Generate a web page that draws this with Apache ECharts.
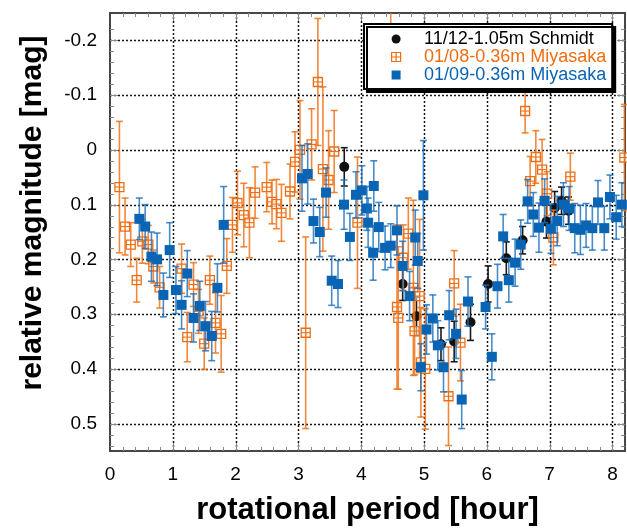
<!DOCTYPE html>
<html>
<head>
<meta charset="utf-8">
<script src="https://cdn.jsdelivr.net/npm/echarts@6/dist/echarts.min.js"></script>
<style>html,body{margin:0;padding:0;background:#fff;}#c{width:627px;height:531px;}</style>
</head>
<body>
<div id="c"></div>
<script>
// ---- data: [rotational period (hour), relative magnitude (mag), error (mag)] ----
const schmidtName = '11/12-1.05m Schmidt';
const schmidtData = [
  [3.73,0.031,0.035],[4.66,0.245,0.030],[4.88,0.304,0.035],[5.27,0.355,0.030],
  [5.48,0.350,0.037],[5.74,0.315,0.033],[6.02,0.245,0.033],[6.31,0.198,0.030],
  [6.57,0.165,0.025],[6.95,0.131,0.030],[7.08,0.106,0.030],[7.19,0.093,0.025],
  [7.30,0.111,0.025]
];
const miya08Name = '01/08-0.36m Miyasaka';
const miya08Data = [
  [0.15,0.068,0.120],[0.24,0.140,0.052],[0.33,0.173,0.040],[0.425,0.238,0.040],
  [0.515,0.167,0.040],[0.61,0.173,0.035],[0.69,0.213,0.030],[0.79,0.251,0.038],
  [1.14,0.217,0.045],[1.23,0.342,0.045],[1.33,0.246,0.040],[1.41,0.295,0.040],
  [1.50,0.354,0.047],[1.59,0.238,0.044],[1.68,0.316,0.055],[1.77,0.336,0.070],
  [1.86,0.212,0.050],[1.95,0.137,0.050],[2.03,0.097,0.058],[2.13,0.119,0.058],
  [2.22,0.133,0.064],[2.31,0.078,0.047],[2.495,0.068,0.045],[2.58,0.095,0.040],
  [2.65,0.099,0.045],[2.73,0.115,0.052],[2.866,0.076,0.050],[2.946,0.022,0.055],
  [3.025,0.000,0.090],[3.116,0.334,0.175],[3.21,-0.010,0.065],[3.31,-0.124,0.116],
  [3.39,0.035,0.150],[3.48,0.055,0.090],[3.57,0.003,0.075],[3.94,0.133,0.120],
  [4.47,-0.210,0.100],[4.57,0.287,0.150],[4.59,0.307,0.130],[4.67,0.197,0.060],
  [4.75,0.153,0.065],[4.83,0.252,0.160],[4.85,0.331,0.080],[4.93,0.267,0.140],
  [4.95,0.388,0.100],[5.02,0.400,0.110],[5.39,0.450,0.090],[5.48,0.244,0.060],
  [5.58,0.352,0.070],[6.61,-0.071,0.040],[6.69,0.057,0.045],[6.78,0.013,0.048],
  [6.88,0.036,0.055],[6.96,0.080,0.040],[7.06,0.160,0.050],[7.33,0.049,0.043],
  [8.19,0.014,0.097]
];
const miya09Name = '01/09-0.36m Miyasaka';
const miya09Data = [
  [0.467,0.126,0.038],[0.56,0.140,0.040],[0.66,0.195,0.045],[0.75,0.200,0.048],
  [0.85,0.265,0.040],[0.95,0.183,0.050],[1.05,0.256,0.043],[1.14,0.283,0.044],
  [1.23,0.226,0.042],[1.33,0.307,0.044],[1.43,0.285,0.045],[1.52,0.322,0.045],
  [1.62,0.340,0.045],[1.71,0.252,0.044],[1.81,0.137,0.070],[3.057,0.052,0.060],
  [3.148,0.044,0.055],[3.24,0.130,0.040],[3.34,0.150,0.045],[3.44,0.078,0.045],
  [3.53,0.239,0.045],[3.63,0.245,0.043],[3.726,0.100,0.045],[3.82,0.159,0.043],
  [3.917,0.082,0.042],[4.01,0.074,0.045],[4.09,0.107,0.040],[4.11,0.133,0.045],
  [4.19,0.188,0.050],[4.20,0.066,0.046],[4.28,0.141,0.045],[4.38,0.179,0.040],
  [4.47,0.175,0.040],[4.57,0.147,0.045],[4.66,0.212,0.045],[4.77,0.267,0.045],
  [4.86,0.160,0.050],[4.90,0.203,0.050],[4.95,0.397,0.043],[4.99,0.083,0.100],
  [5.04,0.328,0.045],[5.14,0.308,0.043],[5.22,0.357,0.045],[5.31,0.397,0.045],
  [5.40,0.302,0.045],[5.51,0.336,0.045],[5.60,0.456,0.053],[5.70,0.277,0.045],
  [5.98,0.287,0.040],[6.08,0.378,0.042],[6.17,0.249,0.040],[6.26,0.158,0.040],
  [6.35,0.238,0.040],[6.45,0.206,0.043],[6.54,0.173,0.045],[6.65,0.094,0.040],
  [6.74,0.118,0.040],[6.83,0.142,0.045],[6.92,0.093,0.040],[7.02,0.144,0.045],
  [7.12,0.130,0.045],[7.22,0.100,0.040],[7.31,0.107,0.040],[7.40,0.143,0.045],
  [7.49,0.146,0.045],[7.58,0.138,0.040],[7.68,0.143,0.040],[7.77,0.096,0.040],
  [7.87,0.143,0.040],[7.96,0.086,0.040],[8.06,0.123,0.040],[8.15,0.100,0.040]
];
// ---- axes / ticks ----
const xTickLabels = [0,1,2,3,4,5,6,7,8];
const yTickLabels = [-0.2,-0.1,0,0.1,0.2,0.3,0.4,0.5];
const xRange = [0, 8.2];
const yRange = [-0.25, 0.55];
const xMinorStep = 0.2;
const yMinorStep = 0.02;
const xTitle = 'rotational period [hour]';
const yTitle = 'relative magnitude [mag]';

const FONT = 'Liberation Sans, Arial, Helvetica, sans-serif';
const C_BLACK = '#111111', C_ORANGE = '#EE6E14', C_BLUE = '#0A64B4';

const chart = echarts.init(document.getElementById('c'), null, {renderer: 'canvas'});

function renderFrame(params, api) {
  const cs = params.coordSys;
  const L = cs.x, R = cs.x + cs.width, T = cs.y, B = cs.y + cs.height;
  const ch = [];
  const gridStyle = {stroke: '#161616', lineWidth: 1.5, lineDash: [2, 2]};
  const tickStyle = {stroke: '#8a8a8a', lineWidth: 1};
  xTickLabels.forEach(v => {
    if (v <= xRange[0] || v >= xRange[1]) return;
    const px = Math.round(api.coord([v, 0])[0]) + 0.5;
    ch.push({type: 'line', shape: {x1: px, y1: T, x2: px, y2: B}, style: gridStyle});
  });
  yTickLabels.forEach(v => {
    const py = Math.round(api.coord([0, v])[1]) + 0.5;
    ch.push({type: 'line', shape: {x1: L, y1: py, x2: R, y2: py}, style: gridStyle});
  });
  const nx = Math.round((xRange[1] - xRange[0]) / xMinorStep);
  for (let i = 1; i < nx; i++) {
    const v = xRange[0] + i * xMinorStep;
    const major = Math.abs(v - Math.round(v)) < 1e-6;
    const len = major ? 8 : 4;
    const px = Math.round(api.coord([v, 0])[0]) + 0.5;
    ch.push({type: 'line', shape: {x1: px, y1: B, x2: px, y2: B - len}, style: tickStyle});
    ch.push({type: 'line', shape: {x1: px, y1: T, x2: px, y2: T + len}, style: tickStyle});
  }
  const ny = Math.round((yRange[1] - yRange[0]) / yMinorStep);
  for (let i = 1; i < ny; i++) {
    const v = yRange[0] + i * yMinorStep + 0.01;
    if (v >= yRange[1]) break;
    const major = Math.abs(v * 10 - Math.round(v * 10)) < 1e-6;
    const len = major ? 8 : 4;
    const py = Math.round(api.coord([0, v])[1]) + 0.5;
    ch.push({type: 'line', shape: {x1: L, y1: py, x2: L + len, y2: py}, style: tickStyle});
    ch.push({type: 'line', shape: {x1: R, y1: py, x2: R - len, y2: py}, style: tickStyle});
  }
  return {type: 'group', children: ch};
}

function makeErrRender(kind, barColor, markColor) {
  return function (params, api) {
    const cs = params.coordSys;
    const T = cs.y, B = cs.y + cs.height;
    const x = api.value(0), y = api.value(1), e = api.value(2);
    const p = api.coord([x, y]);
    let top = api.coord([x, y - e])[1];
    let bot = api.coord([x, y + e])[1];
    const ch = [];
    const bs = {stroke: barColor, lineWidth: 1.6};
    const capTop = top >= T, capBot = bot <= B;
    top = Math.max(top, T); bot = Math.min(bot, B);
    ch.push({type: 'line', shape: {x1: p[0], y1: top, x2: p[0], y2: bot}, style: bs});
    if (capTop) ch.push({type: 'line', shape: {x1: p[0] - 3.5, y1: top, x2: p[0] + 3.5, y2: top}, style: bs});
    if (capBot) ch.push({type: 'line', shape: {x1: p[0] - 3.5, y1: bot, x2: p[0] + 3.5, y2: bot}, style: bs});
    if (kind === 'circle') {
      ch.push({type: 'circle', shape: {cx: p[0], cy: p[1], r: 5}, style: {fill: markColor}});
    } else if (kind === 'square') {
      ch.push({type: 'rect', shape: {x: p[0] - 5, y: p[1] - 5, width: 10, height: 10}, style: {fill: markColor}});
    } else {
      const s = 4.5;
      ch.push({type: 'rect', shape: {x: p[0] - s, y: p[1] - s, width: 2 * s, height: 2 * s},
               style: {fill: 'rgba(255,255,255,0.55)', stroke: markColor, lineWidth: 1.3}});
      ch.push({type: 'line', shape: {x1: p[0] - s, y1: p[1], x2: p[0] + s, y2: p[1]}, style: {stroke: markColor, lineWidth: 1.1}});
      ch.push({type: 'line', shape: {x1: p[0], y1: p[1] - s, x2: p[0], y2: p[1] + s}, style: {stroke: markColor, lineWidth: 1.1}});
    }
    return {type: 'group', children: ch};
  };
}

const squarePath = 'path://M0,0L10,0L10,10L0,10Z';
const crossSquarePath = 'path://M0,0L10,0L10,10L0,10ZM5,0L5,10M0,5L10,5';

const option = {
  backgroundColor: '#ffffff',
  animation: false,
  textStyle: {fontFamily: FONT},
  grid: {left: 110, right: 2, top: 13, bottom: 76, show: true, borderColor: '#474747', borderWidth: 2, backgroundColor: 'transparent'},
  legend: {
    orient: 'vertical', left: 364, top: 24,
    padding: [6, 6, 5, 27], itemGap: 0, itemWidth: 46, itemHeight: 9,
    backgroundColor: '#ffffff', borderColor: '#000', borderWidth: 2, borderRadius: 0,
    shadowColor: '#000', shadowBlur: 0, shadowOffsetX: 3, shadowOffsetY: 3,
    selectedMode: false,
    textStyle: {fontSize: 18, fontFamily: FONT, lineHeight: 17.5},
    data: [
      {name: schmidtName, icon: 'circle', itemStyle: {color: C_BLACK, borderWidth: 0}, textStyle: {color: '#000'}},
      {name: miya08Name, icon: crossSquarePath, itemStyle: {color: 'rgba(255,255,255,0)', borderColor: C_ORANGE, borderWidth: 1.2}, textStyle: {color: C_ORANGE}},
      {name: miya09Name, icon: squarePath, itemStyle: {color: C_BLUE, borderWidth: 0}, textStyle: {color: C_BLUE}}
    ]
  },
  xAxis: {
    type: 'value', min: xRange[0], max: xRange[1], interval: 1,
    axisLine: {show: false}, axisTick: {show: false}, splitLine: {show: false},
    axisLabel: {fontSize: 19, color: '#000', margin: 14, fontFamily: FONT, showMaxLabel: false,
      formatter: v => (xTickLabels.indexOf(Math.round(v * 1000) / 1000) >= 0 ? String(Math.round(v)) : '')},
    name: xTitle, nameLocation: 'middle', nameGap: 44,
    nameTextStyle: {fontSize: 31, fontWeight: 'bold', color: '#000', fontFamily: FONT}
  },
  yAxis: {
    type: 'value', inverse: true, min: yRange[0], max: yRange[1], interval: 0.05,
    axisLine: {show: false}, axisTick: {show: false}, splitLine: {show: false},
    axisLabel: {fontSize: 19, color: '#000', margin: 13, fontFamily: FONT,
      formatter: v => {
        const k = Math.round(v * 100);
        if (k % 10 !== 0) return '';
        const val = k / 100;
        if (yTickLabels.indexOf(val) < 0) return '';
        return val === 0 ? '0' : val.toFixed(1);
      }},
    name: yTitle, nameLocation: 'middle', nameGap: 62, nameRotate: 90,
    nameTextStyle: {fontSize: 30, fontWeight: 'bold', color: '#000', fontFamily: FONT, padding: [0, 0, 0, 38]}
  },
  series: [
    {type: 'custom', name: 'frame', data: [[0, 0]], renderItem: renderFrame, silent: true, z: 1},
    {type: 'custom', name: schmidtName, data: schmidtData, encode: {x: 0, y: 1},
     itemStyle: {color: C_BLACK}, renderItem: makeErrRender('circle', '#1a1a1a', C_BLACK), z: 3},
    {type: 'custom', name: miya08Name, data: miya08Data, encode: {x: 0, y: 1},
     itemStyle: {color: C_ORANGE}, renderItem: makeErrRender('cross', 'rgba(240,115,25,0.85)', C_ORANGE), z: 3},
    {type: 'custom', name: miya09Name, data: miya09Data, encode: {x: 0, y: 1},
     itemStyle: {color: C_BLUE}, renderItem: makeErrRender('square', 'rgba(25,110,190,0.8)', C_BLUE), z: 3}
  ]
};
chart.setOption(option);
</script>
</body>
</html>
